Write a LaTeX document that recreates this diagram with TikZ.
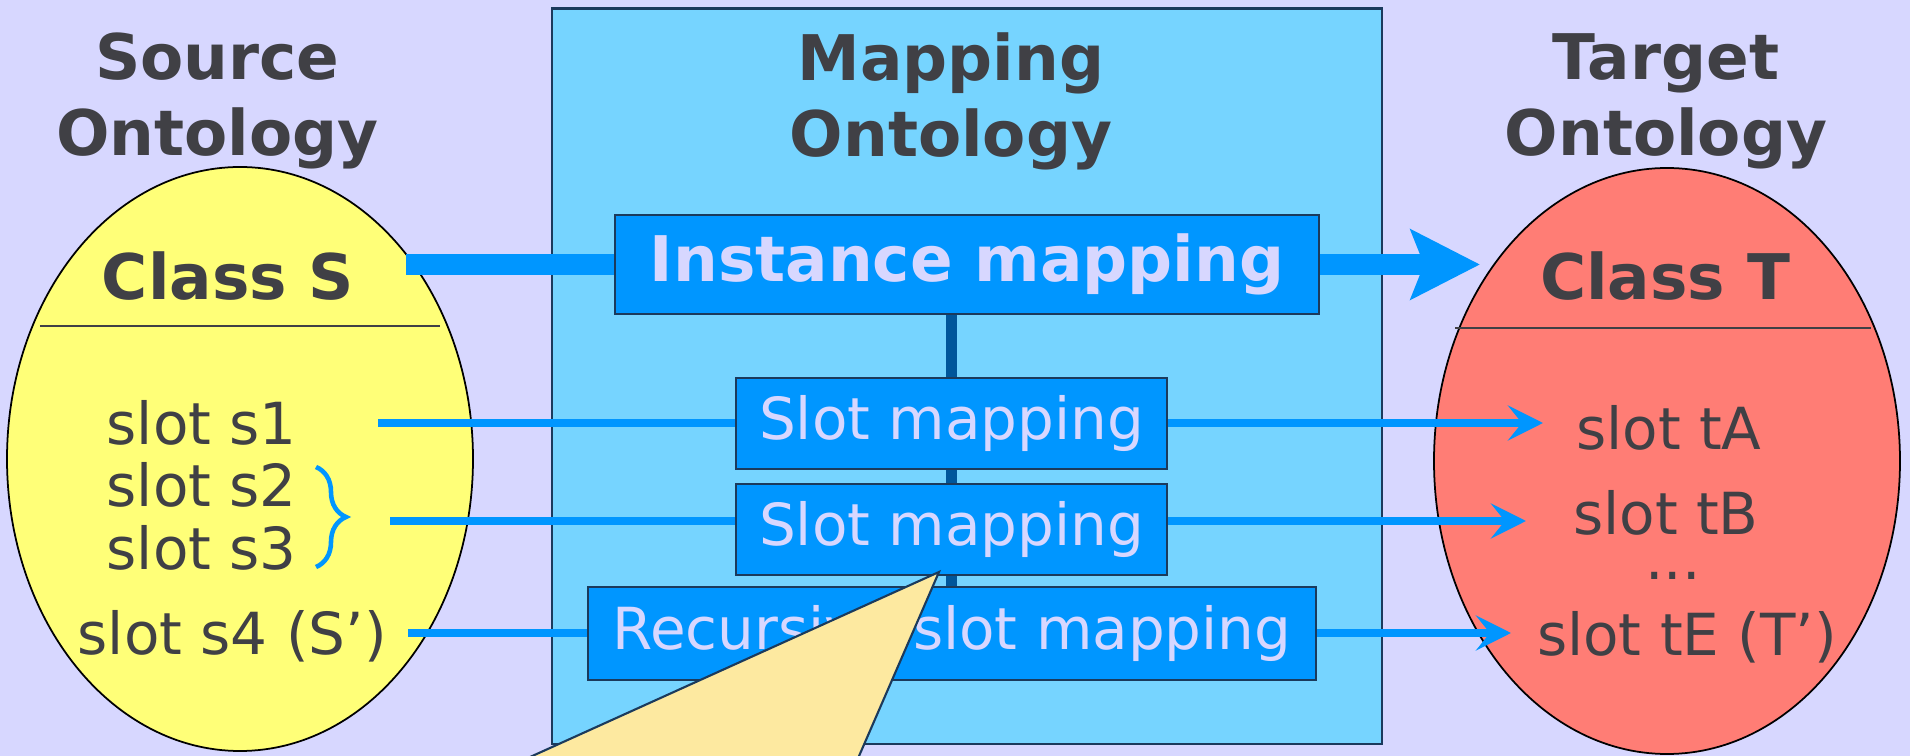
\documentclass[tikz,border=0pt]{standalone}
\usepackage{fontspec}
\setmainfont{DejaVu Sans}
\usetikzlibrary{positioning, calc, arrows.meta, decorations.pathreplacing}

\definecolor{bgLav}{HTML}{D7D7FF}
\definecolor{mapSky}{HTML}{76D4FF}
\definecolor{boxBlue}{HTML}{0096FF}
\definecolor{boxEdge}{HTML}{1B3A5C}
\definecolor{boxInk}{HTML}{D7D7FF}
\definecolor{inkGray}{HTML}{404045}
\definecolor{srcYellow}{HTML}{FFFF78}
\definecolor{tgtSalmon}{HTML}{FF7D75}
\definecolor{linkDark}{HTML}{00569B}
\definecolor{noteYellow}{HTML}{FDE9A0}

\pgfdeclarelayer{back}
\pgfdeclarelayer{links}
\pgfsetlayers{back,links,main}

\begin{document}
\begin{tikzpicture}[
  font=\fontsize{16.5}{19.8}\selectfont,
  text=inkGray,
  bigfont/.style={font=\fontsize{17.9}{21.6}\selectfont\bfseries},
  titletext/.style={bigfont, align=center, inner sep=0pt},
  slottext/.style={inner sep=0pt},
  mapbox/.style={draw=boxEdge, line width=0.6pt, fill=boxBlue, text=boxInk,
                 inner sep=0pt, minimum height=0.91cm},
  thinlink/.style={boxBlue, line width=0.08cm,
                   -{Stealth[length=10pt, width=10pt, inset=4pt]}},
  thicklink/.style={boxBlue, line width=0.21cm,
                    -{Stealth[length=19.6pt, width=19.6pt, inset=3.7pt]}},
]
\useasboundingbox (0,0) rectangle (19.10,7.56);

% ---------------- background, mapping frame, ontologies ----------------
\begin{pgfonlayer}{back}
  \fill[bgLav] (0,0) rectangle (19.10,7.56);
  \filldraw[fill=mapSky, draw=boxEdge, line width=0.6pt] (5.52,0.12) rectangle (13.82,7.475);
  \filldraw[fill=srcYellow, draw=black, line width=0.5pt]
    (2.40,2.97) ellipse [x radius=2.33, y radius=2.92];
  \filldraw[fill=tgtSalmon, draw=black, line width=0.5pt]
    (16.67,2.95) ellipse [x radius=2.33, y radius=2.93];
  \draw[inkGray, line width=0.8pt] (0.40,4.30) -- (4.40,4.30);
  \draw[inkGray, line width=0.8pt] (14.55,4.28) -- (18.71,4.28);
\end{pgfonlayer}

% =====================================================================
% Titles
% =====================================================================
\node[titletext] (srcTitle) at (2.175,6.55) {Source\\Ontology};
\node[titletext] (mapTitle) at (9.51,6.55) {Mapping\\Ontology};
\node[titletext] (tgtTitle) at (16.66,6.55) {Target\\Ontology};

% =====================================================================
% Source class and its slots
% =====================================================================
\node[bigfont, anchor=base, inner sep=0pt] (classS) at (2.28,4.56) {Class S};
\node[slottext, anchor=base west] (slotS1) at (1.06,3.11) {slot s1};
\node[slottext, anchor=base west] (slotS2) at (1.06,2.49) {slot s2};
\node[slottext, anchor=base west] (slotS3) at (1.06,1.86) {slot s3};
\node[slottext, anchor=base west] (slotS4) at (0.77,1.01) {slot s4 (S’)};

% =====================================================================
% Target class and its slots
% =====================================================================
\node[bigfont, anchor=base, inner sep=0pt] (classT) at (16.65,4.56) {Class T};
\node[slottext, anchor=base] (slotTA) at (16.69,3.06) {slot tA};
\node[slottext, anchor=base] (slotTB) at (16.66,2.21) {slot tB};
\node[slottext, anchor=base] (slotDots) at (16.73,1.76) {...};
\node[slottext, anchor=base] (slotTE) at (16.87,1.00) {slot tE (T’)};

% =====================================================================
% Mapping boxes
% =====================================================================
\node[mapbox, bigfont, minimum width=7.04cm, minimum height=0.99cm]
  (instMap) at (9.67,4.915) {Instance mapping};
\node[mapbox, minimum width=4.31cm] (slotMapA) at (9.515,3.325) {Slot mapping};
\node[mapbox, minimum width=4.31cm] (slotMapB) at (9.515,2.265) {Slot mapping};
\node[mapbox, minimum width=7.28cm, minimum height=0.93cm]
  (recMap) at (9.52,1.225) {Recursive slot mapping};

% connector ends
\coordinate (classOut) at (4.06,4.915);
\coordinate (classTip) at (14.80,4.915);
\coordinate (s1Out)  at (3.78,3.33);
\coordinate (tATip)  at (15.43,3.33);
\coordinate (s23Out) at (3.90,2.35);
\coordinate (tBTip)  at (15.26,2.35);
\coordinate (s4Out)  at (4.08,1.23);
\coordinate (tETip)  at (15.11,1.23);

% ---------------- links (under the boxes) ----------------
\begin{pgfonlayer}{links}
  \draw[linkDark, line width=0.11cm] (instMap.south -| mapTitle) -- (recMap.north -| mapTitle);
  \draw[thicklink] (classOut) -- (classTip);
  \draw[thinlink] (s1Out) -- (tATip);
  \draw[thinlink] (s23Out) -- (tBTip);
  \draw[thinlink] (s4Out) -- (tETip);
\end{pgfonlayer}

% brace grouping s2 and s3
\draw[boxBlue, line width=1.3pt, decorate, decoration={brace, amplitude=0.3cm}]
  (3.16,2.89) -- (3.16,1.89);

% callout wedge, cut by the frame
\coordinate (noteTip) at (9.39,1.84);
\begin{scope}
  \clip (0,0) rectangle (19.10,7.56);
  \filldraw[fill=noteYellow, draw=boxEdge, line width=0.6pt]
    (noteTip) -- (4.66,-0.3) -- (8.46,-0.3) -- cycle;
\end{scope}

\end{tikzpicture}
\end{document}
